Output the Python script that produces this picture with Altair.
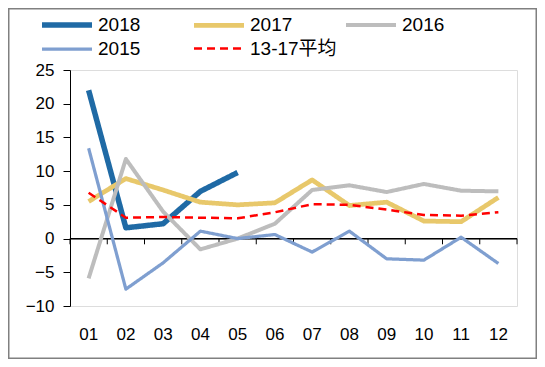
import altair as alt
import pandas as pd

months = ["01", "02", "03", "04", "05", "06", "07", "08", "09", "10", "11", "12"]
s2018 = [22.0, 1.6, 2.2, 7.0, 9.8]
s2017 = [5.5, 8.9, 7.2, 5.4, 5.0, 5.3, 8.7, 4.9, 5.4, 2.6, 2.5, 6.1]
s2016 = [-5.9, 11.8, 4.0, -1.6, 0.0, 2.2, 7.2, 7.9, 6.9, 8.1, 7.1, 7.0]
s2015 = [13.4, -7.5, -3.6, 1.1, 0.0, 0.6, -2.0, 1.1, -3.0, -3.2, 0.2, -3.7]
avg1317 = [6.8, 3.1, 3.2, 3.1, 3.0, 3.9, 5.1, 5.0, 4.3, 3.5, 3.4, 3.9]
yticks = [-10, -5, 0, 5, 10, 15, 20, 25]

series_names = ["2018", "2017", "2016", "2015", "13-17平均"]
series_vals = [s2018, s2017, s2016, s2015, avg1317]
colors = ["#1F6AA5", "#E8C86B", "#BDBDBD", "#7F9FD0", "#FF0000"]
widths = [5.5, 2.5, 2.5, 2.5, 3]
dashes = [[1, 0], [1, 0], [1, 0], [1, 0], [8, 5]]

rows = []
for name, vals in zip(series_names, series_vals):
    for i, v in enumerate(vals):
        rows.append({"month": months[i], "value": v, "series": name})
df = pd.DataFrame(rows)

W, H = 447, 236
FONT = "Liberation Sans, Noto Sans CJK SC"

xscale = alt.Scale(type="band", domain=months, paddingInner=0, paddingOuter=0)
yscale = alt.Scale(domain=[-10, 25], nice=False)

xaxis = alt.Axis(title=None, domain=False, ticks=False, labelAngle=0,
                 labelFont=FONT, labelFontSize=17, labelColor="black",
                 labelPadding=20)
yaxis = alt.Axis(title=None, values=yticks, grid=False, labelOverlap=False,
                 domainColor="black", tickColor="black", tickSize=7,
                 labelFont=FONT, labelFontSize=17, labelColor="black",
                 labelPadding=9)

color = alt.Color("series:N", scale=alt.Scale(domain=series_names, range=colors),
                  legend=alt.Legend(title=None, orient="none", legendX=-16, legendY=-58,
                                    direction="horizontal",
                                    columns=3, gridAlign="all", columnPadding=-1,
                                    rowPadding=1, symbolType="M-2.5,0H2.5", symbolSize=400,
                                    labelFont=FONT, labelFontSize=19, labelColor="black",
                                    labelOffset=18, labelLimit=0))
swidth = alt.StrokeWidth("series:N", scale=alt.Scale(domain=series_names, range=widths), legend=None)
sdash = alt.StrokeDash("series:N", scale=alt.Scale(domain=series_names, range=dashes), legend=None)

lines = alt.Chart(df).mark_line(strokeCap="butt", strokeJoin="round").encode(
    x=alt.X("month:N", scale=xscale, bandPosition=0.5, axis=xaxis),
    y=alt.Y("value:Q", scale=yscale, axis=yaxis),
    color=color,
    strokeWidth=swidth,
    strokeDash=sdash,
    order=alt.Order("month:N"),
)

tick_df = pd.DataFrame({"month": months})
zero = alt.Chart(tick_df).mark_rule(color="black", strokeWidth=1).encode(
    x=alt.value(0), x2=alt.value(W), y=alt.Y(datum=0, scale=yscale, axis=yaxis)
)
ticks = alt.Chart(tick_df).mark_rule(color="black", strokeWidth=1).encode(
    x=alt.X("month:N", scale=xscale, bandPosition=0, axis=xaxis),
    y=alt.Y(datum=0, scale=yscale, axis=yaxis),
    y2=alt.Y2(datum=-0.85),
)
end_tick = alt.Chart(pd.DataFrame({"month": [months[-1]]})).mark_rule(color="black", strokeWidth=1).encode(
    x=alt.X("month:N", scale=xscale, bandPosition=1, axis=xaxis),
    y=alt.Y(datum=0, scale=yscale, axis=yaxis),
    y2=alt.Y2(datum=-0.85),
)
border = alt.Chart(pd.DataFrame({"k": [0]})).mark_rect(fill=None, stroke="#808080", strokeWidth=1.5).encode(
    x=alt.value(-61.25), x2=alt.value(466.25), y=alt.value(-61.25), y2=alt.value(288.25)
)

chart = alt.layer(border, zero, ticks, end_tick, lines).properties(
    width=W, height=H,
    autosize=alt.AutoSizeParams(type="none"),
    padding={"left": 62, "top": 62, "right": 20, "bottom": 53},
).configure_view(stroke=None).configure(background="white")

chart.save("out.html", embed_options={"renderer": "svg", "actions": False})
